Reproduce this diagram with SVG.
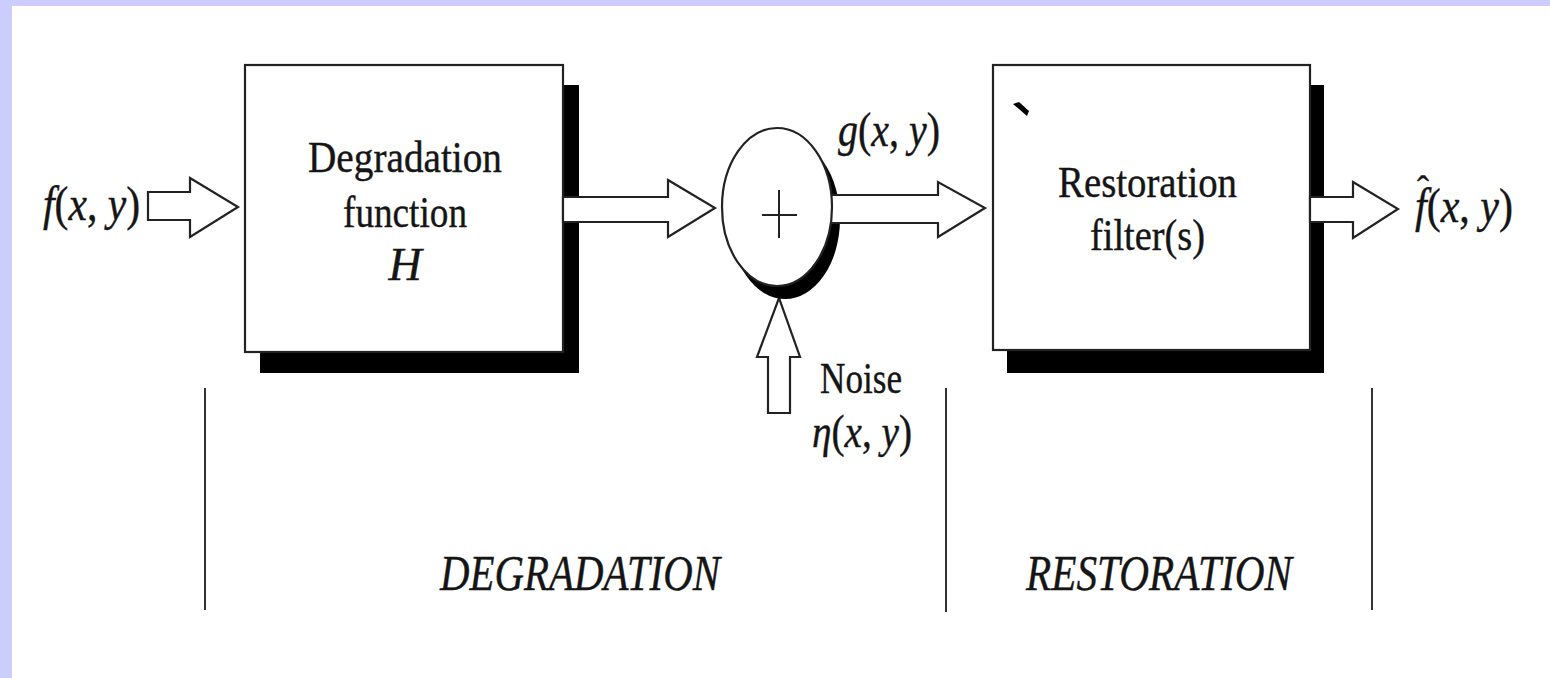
<svg xmlns="http://www.w3.org/2000/svg" width="1550" height="678" viewBox="0 0 1550 678">
<style>
.t{font-family:"Liberation Serif","Times New Roman",serif;fill:#151515;stroke:#151515;stroke-width:0.4}
.i{font-style:italic}
.box{fill:#fff;stroke:#222;stroke-width:2.2}
.sh{fill:#000}
.arr{fill:#fff;stroke:#222;stroke-width:2.2;stroke-linejoin:miter}
.sep{stroke:#333;stroke-width:2;fill:none}
</style>
<rect x="0" y="0" width="1550" height="678" fill="#ccccff"/>
<rect x="12" y="6" width="1538" height="672" fill="#ffffff"/>

<g id="connectors">
  <polygon class="arr" points="148,192 190,192 190,178 238,207 190,237 190,220 148,220"/>
</g>

<g id="degradation-box">
  <rect class="sh" x="260" y="85" width="319" height="288"/>
  <rect class="box" x="245" y="65" width="318" height="287"/>
  <text class="t" x="308" y="172" font-size="45" textLength="194" lengthAdjust="spacingAndGlyphs">Degradation</text>
  <text class="t" x="343" y="227" font-size="45" textLength="124" lengthAdjust="spacingAndGlyphs">function</text>
  <text class="t i" x="405" y="280" font-size="46" text-anchor="middle">H</text>
</g>

<g id="restoration-box">
  <rect class="sh" x="1007" y="85" width="317" height="288"/>
  <rect class="box" x="993" y="65" width="317" height="285"/>
  <polygon fill="#000" points="1013,104 1019,102 1029,111 1027,116"/>
  <text class="t" x="1058" y="197" font-size="45" textLength="179" lengthAdjust="spacingAndGlyphs">Restoration</text>
  <text class="t" x="1090" y="250" font-size="45" textLength="115" lengthAdjust="spacingAndGlyphs">filter(s)</text>
</g>

<g id="connectors-2">
  <polygon class="arr" points="563,197 668,197 668,180 715,208 668,237 668,222 563,222"/>
  <polygon class="arr" points="1310,197 1353,197 1353,182 1398,209 1353,238 1353,222 1310,222"/>
  <polygon class="arr" points="768,413 790,413 790,357 800,357 779,298 757,357 768,357"/>
</g>

<g id="summing-junction">
  <ellipse class="sh" cx="785" cy="219" rx="55" ry="80"/>
  <polygon class="arr" points="815,195 938,195 938,182 985,208 938,237 938,223 815,223"/>
  <ellipse fill="#fff" stroke="#222" stroke-width="2.2" cx="777" cy="207" rx="55" ry="79"/>
  <line x1="762" y1="215" x2="797" y2="215" stroke="#222" stroke-width="2"/>
  <line x1="779" y1="190" x2="779" y2="238" stroke="#222" stroke-width="2"/>
</g>

<g id="labels">
  <text class="t" x="43" y="220" font-size="48" textLength="97" lengthAdjust="spacingAndGlyphs"><tspan class="i">f</tspan>(<tspan class="i">x</tspan>, <tspan class="i">y</tspan>)</text>
  <text class="t" x="838" y="146" font-size="48" textLength="102" lengthAdjust="spacingAndGlyphs"><tspan class="i">g</tspan>(<tspan class="i">x</tspan>, <tspan class="i">y</tspan>)</text>
  <text class="t" x="1417" y="201" font-size="36">ˆ</text>
  <text class="t" x="1415" y="222" font-size="48" textLength="98" lengthAdjust="spacingAndGlyphs"><tspan class="i">f</tspan>(<tspan class="i">x</tspan>, <tspan class="i">y</tspan>)</text>
  <text class="t" x="820" y="393" font-size="45" textLength="82" lengthAdjust="spacingAndGlyphs">Noise</text>
  <text class="t" x="812" y="447" font-size="46" textLength="100" lengthAdjust="spacingAndGlyphs"><tspan class="i">η</tspan>(<tspan class="i">x</tspan>, <tspan class="i">y</tspan>)</text>
</g>

<g id="sections">
  <line class="sep" x1="205" y1="388" x2="205" y2="610"/>
  <line class="sep" x1="946" y1="388" x2="946" y2="612"/>
  <line class="sep" x1="1372" y1="388" x2="1372" y2="610"/>
  <text class="t i" x="440" y="590" font-size="50" textLength="280" lengthAdjust="spacingAndGlyphs">DEGRADATION</text>
  <text class="t i" x="1026" y="590" font-size="50" textLength="266" lengthAdjust="spacingAndGlyphs">RESTORATION</text>
</g>
</svg>
